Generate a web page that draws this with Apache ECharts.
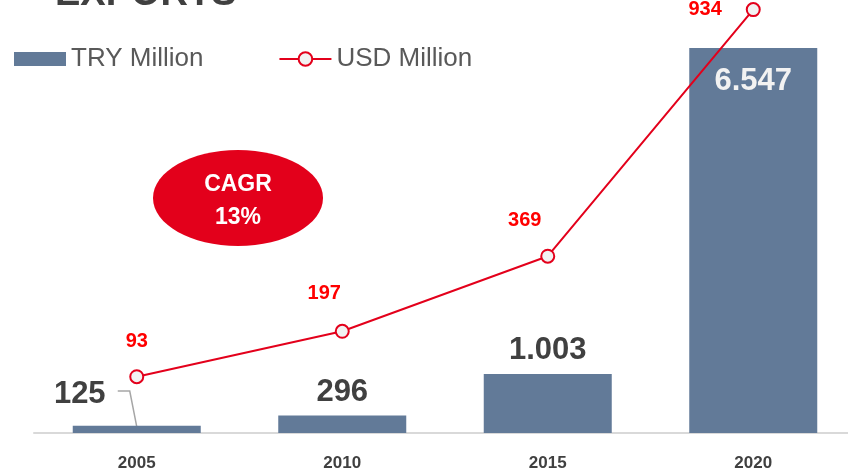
<!DOCTYPE html>
<html lang="en">
<head>
  <meta http-equiv="Content-Type" content="text/html; charset=UTF-8">
  <title>Exports</title>
  <style>
    html, body { margin: 0; padding: 0; background: #fff; }
    #myChart { width: 848px; height: 469px; }
  </style>
</head>
<body>
  <div id="myChart"></div>
  <script src="https://cdn.jsdelivr.net/npm/echarts@6/dist/echarts.min.js"></script>
  <script>
    const years = ['2005', '2010', '2015', '2020'];
    const tryMillion = [125, 296, 1003, 6547];
    const tryLabels = ['125', '296', '1.003', '6.547'];
    const usdMillion = [93, 197, 369, 934];

    const font = 'Liberation Sans, Arial, sans-serif';
    const red = '#e3001b';

    const myChart = echarts.init(document.getElementById('myChart'));

    const barData = tryMillion.map((v, i) => {
      const item = { value: v };
      if (i === 3) {
        item.label = { position: 'insideTop', distance: 18, color: '#f2f2f2' };
      }
      return item;
    });

    const lineOffsets = [[0, -4], [-18, -6], [-23, -4], [-10, 0]];
    const lineData = usdMillion.map((v, i) => {
      const item = { value: v, label: { offset: lineOffsets[i] } };
      if (i === 3) item.label.position = 'left';
      return item;
    });

    const option = {
      animation: false,
      title: {
        text: 'EXPORTS',
        left: 50,
        top: -29,
        textStyle: { fontFamily: font, fontSize: 38, fontWeight: 'bold', color: '#404040' }
      },
      legend: {
        left: 9,
        top: 41,
        itemWidth: 52,
        itemHeight: 17,
        itemGap: 75,
        symbolKeepAspect: true,
        textStyle: { fontFamily: font, fontSize: 26, color: '#595959' },
        data: [
          { name: 'TRY Million', icon: 'path://M0,0H52V14H0Z' },
          { name: 'USD Million' }
        ]
      },
      grid: { left: 34, width: 822, top: 48, bottom: 36, outerBoundsMode: 'none', containLabel: false },
      xAxis: {
        type: 'category',
        data: years,
        axisLine: { lineStyle: { color: '#d9d9d9', width: 2 } },
        axisTick: { show: false },
        axisLabel: { fontFamily: font, fontSize: 17, fontWeight: 'bold', color: '#404040', margin: 22 }
      },
      yAxis: [
        { type: 'value', min: 0, max: 6547, show: false, splitLine: { show: false } },
        { type: 'value', min: -36, max: 846, show: false, splitLine: { show: false } }
      ],
      series: [
        {
          name: 'TRY Million',
          type: 'bar',
          barWidth: 128,
          data: barData,
          itemStyle: { color: '#627a98' },
          label: {
            show: true,
            position: 'top',
            distance: 8,
            fontFamily: font,
            fontSize: 31,
            fontWeight: 'bold',
            color: '#404040',
            formatter: p => tryLabels[p.dataIndex]
          },
          // first label sits left of the small 2005 bar
          labelLayout: p => (p.dataIndex === 0 ? { dx: -57, dy: -8 } : {})
        },
        {
          name: 'USD Million',
          type: 'line',
          yAxisIndex: 1,
          clip: false,
          z: 5,
          data: lineData,
          symbol: 'circle',
          symbolSize: 13,
          lineStyle: { color: red, width: 2 },
          itemStyle: { color: '#f2f2f2', borderColor: red, borderWidth: 2 },
          label: {
            show: true,
            position: 'top',
            distance: 14,
            fontFamily: font,
            fontSize: 20,
            fontWeight: 'bold',
            color: '#ff0000'
          }
        }
      ],
      graphic: [
        {
          id: 'cagrBg',
          type: 'ellipse',
          shape: { cx: 238, cy: 198, rx: 85, ry: 48 },
          style: { fill: red }
        },
        {
          id: 'cagrText',
          type: 'text',
          x: 238,
          y: 201,
          style: {
            text: 'CAGR\n13%',
            fill: '#fff',
            font: 'bold 23px ' + font,
            lineHeight: 33,
            align: 'center',
            verticalAlign: 'middle'
          }
        }
      ]
    };
    myChart.setOption(option);

    // guide line from the 2005 label down to its bar top
    const top2005 = myChart.convertToPixel({ seriesIndex: 0 }, [years[0], tryMillion[0]]);
    const guideY = 391;
    myChart.setOption({
      graphic: [{
        id: 'guide2005',
        type: 'polyline',
        z: 1,
        shape: { points: [[top2005[0] - 19, guideY], [top2005[0] - 7, guideY], [top2005[0], top2005[1] + 1]] },
        style: { stroke: '#a6a6a6', lineWidth: 1.5, fill: null }
      }]
    });
  </script>
</body>
</html>
